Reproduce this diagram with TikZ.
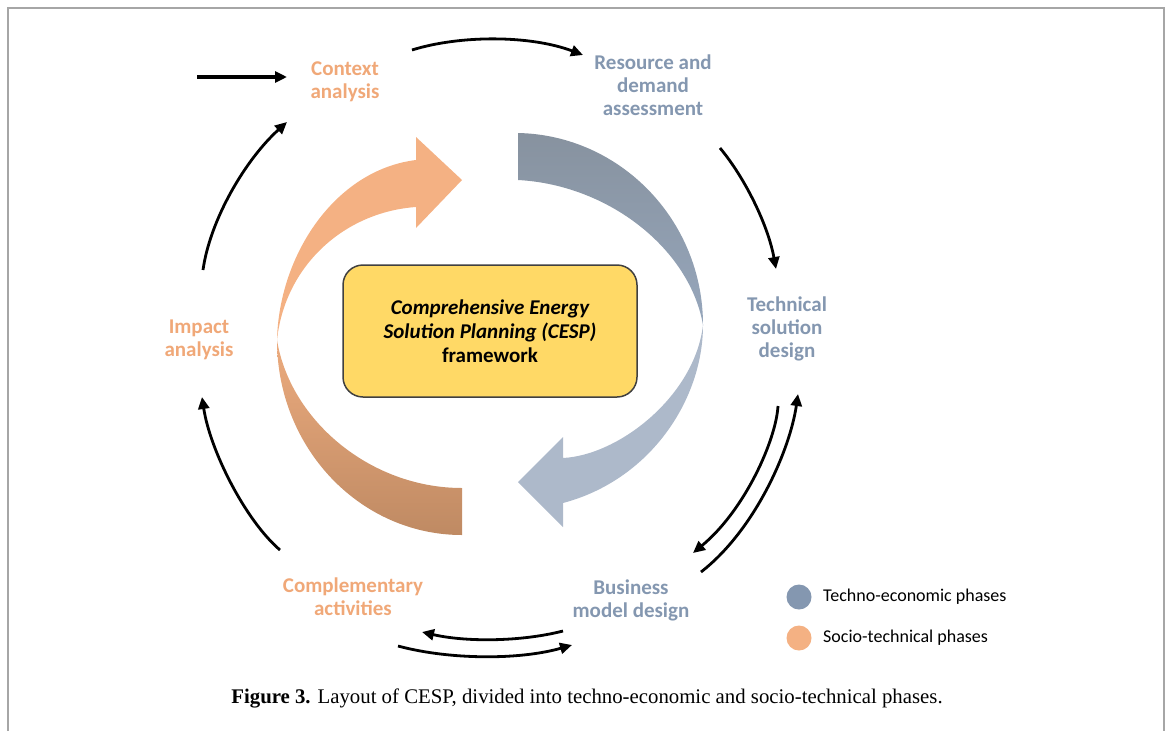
\documentclass[tikz,border=0pt]{standalone}
\usepackage{fontspec}
\setmainfont{Liberation Serif}
\setsansfont{Carlito}
\usetikzlibrary{arrows.meta}

\definecolor{socio}{HTML}{F4B183}
\definecolor{sociotxt}{HTML}{F0A878}
\definecolor{techno}{HTML}{8497B0}
\definecolor{technodark}{HTML}{87929F}
\definecolor{technolight}{HTML}{ADB9CA}
\definecolor{brownish}{HTML}{BF8A63}
\definecolor{boxfill}{HTML}{FFD966}

\tikzset{
	phase/.style={font=\sffamily\bfseries\fontsize{21}{23}\selectfont, align=center, inner sep=0pt},
	socio phase/.style={phase, text=sociotxt},
	techno phase/.style={phase, text=techno},
	flow/.style={line width=2.8pt, -{Triangle[length=12pt,width=11pt]}},
	legend dot/.style={circle, minimum size=25pt, inner sep=0pt},
	legend text/.style={anchor=west, inner sep=0pt, font=\sffamily\fontsize{18}{20}\selectfont},
}

\begin{document}
\begin{tikzpicture}[x=1pt,y=-1pt]
	\useasboundingbox (0,0) rectangle (1169,731);
	\draw[gray!70, line width=1.5pt] (8,731) -- (8,8) -- (1164,8) -- (1164,731);

	% the four bands round the box
	\fill[socio] (277,340) .. controls (279,255) and (335,170) .. (416,160) -- (416,137) -- (462,180) -- (416,228) -- (416,207) .. controls (345,212) and (285,265) .. (277,340) -- cycle;
	\shade[top color=socio!85!brownish, bottom color=brownish] (277,340) .. controls (277,448) and (360,535) .. (462,535) -- (462,488) .. controls (370,488) and (290,420) .. (277,340) -- cycle;
	\shade[top color=technodark, bottom color=techno!85] (518,133) .. controls (620,135) and (703,220) .. (703,325) .. controls (690,250) and (610,185) .. (518,180) -- cycle;
	\fill[technolight] (703,325) .. controls (703,400) and (650,480) .. (563,503) -- (563,527) -- (518,482) -- (563,437) -- (563,458) .. controls (620,455) and (695,395) .. (703,325) -- cycle;

	\node[draw=black!75, line width=1.5pt, fill=boxfill, rounded corners=20pt, minimum width=294pt, minimum height=132pt, align=center, font=\sffamily\bfseries\fontsize{21}{24}\selectfont] (cesp) at (490,331) {{\itshape Comprehensive Energy}\\{\itshape Solution Planning (CESP)}\\framework};

	\node[socio phase] (ctx) at (345,82) {Context\\analysis};
	\node[techno phase] (res) at (653,85) {Resource and\\demand\\assessment};
	\node[techno phase] (tech) at (787,329) {Technical\\solution\\design};
	\node[techno phase] (bus) at (631,600) {Business\\model design};
	\node[socio phase] (comp) at (353,597) {Complementary\\activities};
	\node[socio phase] (imp) at (199,340) {Impact\\analysis};

	\coordinate (feed) at (197,77);
	\coordinate (ctx in) at (287,77);
	\coordinate (ctx out) at (412,50);
	\coordinate (res in) at (583,55);
	\coordinate (res out) at (720,148);
	\coordinate (tech in) at (776,269);
	\coordinate (tech out) at (778,406);
	\coordinate (tech back) at (798,394);
	\coordinate (bus in) at (693,553);
	\coordinate (bus out) at (701,572);
	\coordinate (bus back) at (572,645);
	\coordinate (bus left) at (563,631);
	\coordinate (comp in) at (422,632);
	\coordinate (comp out) at (398,646);
	\coordinate (comp up) at (280,550);
	\coordinate (imp in) at (202,397);
	\coordinate (imp out) at (203,270);
	\coordinate (ctx back) at (287,122);

	\draw[flow, line width=3.4pt] (feed) -- (ctx in);
	\draw[flow] (ctx out) .. controls (460,35) and (530,35) .. (res in);
	\draw[flow] (res out) .. controls (745,178) and (768,225) .. (tech in);
	\draw[flow] (tech out) .. controls (776,440) and (745,510) .. (bus in);
	\draw[flow] (bus out) .. controls (755,530) and (790,450) .. (tech back);
	\draw[flow] (bus left) .. controls (520,642) and (465,642) .. (comp in);
	\draw[flow] (comp out) .. controls (450,660) and (520,660) .. (bus back);
	\draw[flow] (comp up) .. controls (245,520) and (210,450) .. (imp in);
	\draw[flow] (imp out) .. controls (210,220) and (245,160) .. (ctx back);

	\node[legend dot, fill=techno] (techno dot) at (799,597) {};
	\node[legend text] (techno key) at (823,597) {Techno-economic phases};
	\node[legend dot, fill=socio] (socio dot) at (799,638) {};
	\node[legend text] (socio key) at (823,638) {Socio-technical phases};

	\node[font=\fontsize{20.8}{24}\selectfont] (caption) at (587,698) {\textbf{Figure 3.} Layout of CESP, divided into techno-economic and socio-technical phases.};
\end{tikzpicture}
\end{document}
